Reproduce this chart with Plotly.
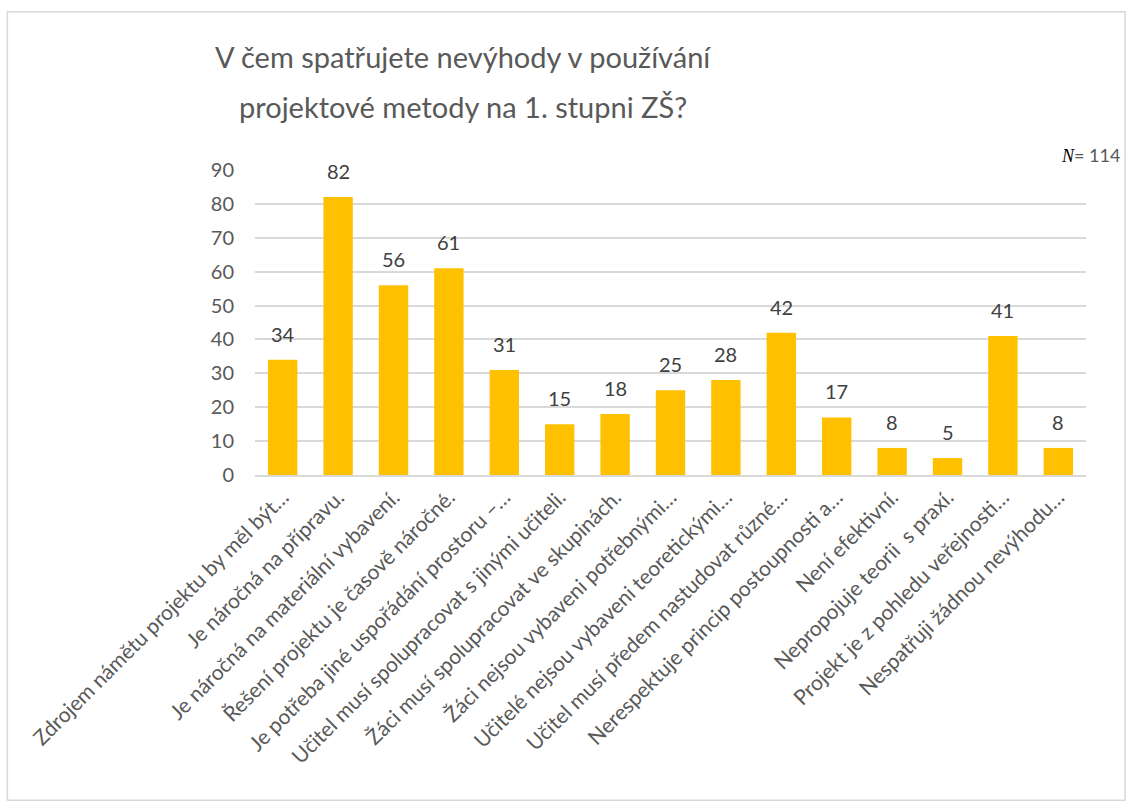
import plotly.graph_objects as go

# survey answers (N = 114)
categories = [
    "Zdrojem námětu projektu by měl být…",
    "Je náročná na přípravu.",
    "Je náročná na materiální vybavení.",
    "Řešení projektu je časově náročné.",
    "Je potřeba jiné uspořádání prostoru –…",
    "Učitel musí spolupracovat s jinými učiteli.",
    "Žáci musí spolupracovat ve skupinách.",
    "Žáci nejsou vybaveni potřebnými…",
    "Učitelé nejsou vybaveni teoretickými…",
    "Učitel musí předem nastudovat různé…",
    "Nerespektuje princip postoupnosti a…",
    "Není efektivní.",
    "Nepropojuje teorii  s praxí.",
    "Projekt je z pohledu veřejnosti…",
    "Nespatřuji žádnou nevýhodu…",
]
counts = [34, 82, 56, 61, 31, 15, 18, 25, 28, 42, 17, 8, 5, 41, 8]
y_ticks = [0, 10, 20, 30, 40, 50, 60, 70, 80, 90]

title_lines = [
    "V čem spatřujete nevýhody v používání",
    "projektové metody na 1. stupni ZŠ?",
]
font_main = "Lato, sans-serif"
grey = "#595959"

fig = go.Figure()
fig.add_trace(go.Bar(
    x=categories,
    y=counts,
    marker=dict(color="#FFC000", line=dict(width=0)),
    hoverinfo="x+y",
))

# value labels a bit above each bar
for cat, val in zip(categories, counts):
    fig.add_annotation(
        x=cat, y=val, text=str(val),
        showarrow=False, yanchor="bottom", yshift=12,
        font=dict(size=20, color="#404040", family=font_main),
    )

# two-line title, with wider line spacing than plotly's default
for line, ypos in zip(title_lines, [1.3705, 1.2066]):
    fig.add_annotation(
        xref="paper", yref="paper", x=0.2503, y=ypos,
        xanchor="center", yanchor="middle", showarrow=False,
        text=line, font=dict(size=29, color=grey, family=font_main),
    )

fig.add_annotation(
    xref="paper", yref="paper", x=1.043, y=1.049,
    xanchor="right", yanchor="middle", showarrow=False,
    text="<i><span style='font-family:Liberation Serif;color:#000000'>N</span></i>= 114",
    font=dict(size=18, color=grey, family=font_main),
)

# outer chart frame
fig.add_shape(
    type="rect", xref="paper", yref="paper",
    x0=-0.298, x1=1.047, y0=-1.066, y1=1.519,
    line=dict(color="#D9D9D9", width=1.5), fillcolor="rgba(0,0,0,0)",
    layer="below",
)

fig.update_layout(
    width=1131, height=805,
    margin=dict(l=255, r=45, t=170, b=330),
    paper_bgcolor="white", plot_bgcolor="white",
    bargap=0.47,
    showlegend=False,
    font=dict(family=font_main, color=grey),
)
fig.update_yaxes(
    range=[0, 90], tickvals=y_ticks,
    showgrid=True, gridcolor="#D9D9D9", gridwidth=1.5,
    zeroline=False, showline=False, ticks="",
    ticklabelstandoff=20,
    tickfont=dict(size=20, color=grey, family=font_main),
)
fig.update_xaxes(
    tickangle=-45, showline=True, linecolor="#D9D9D9", linewidth=1.5,
    ticks="", tickfont=dict(size=21, color=grey, family=font_main),
)

fig.write_html(
    "out.html",
    config={"displayModeBar": False},
    post_script="document.body.style.margin='0px';",
)
